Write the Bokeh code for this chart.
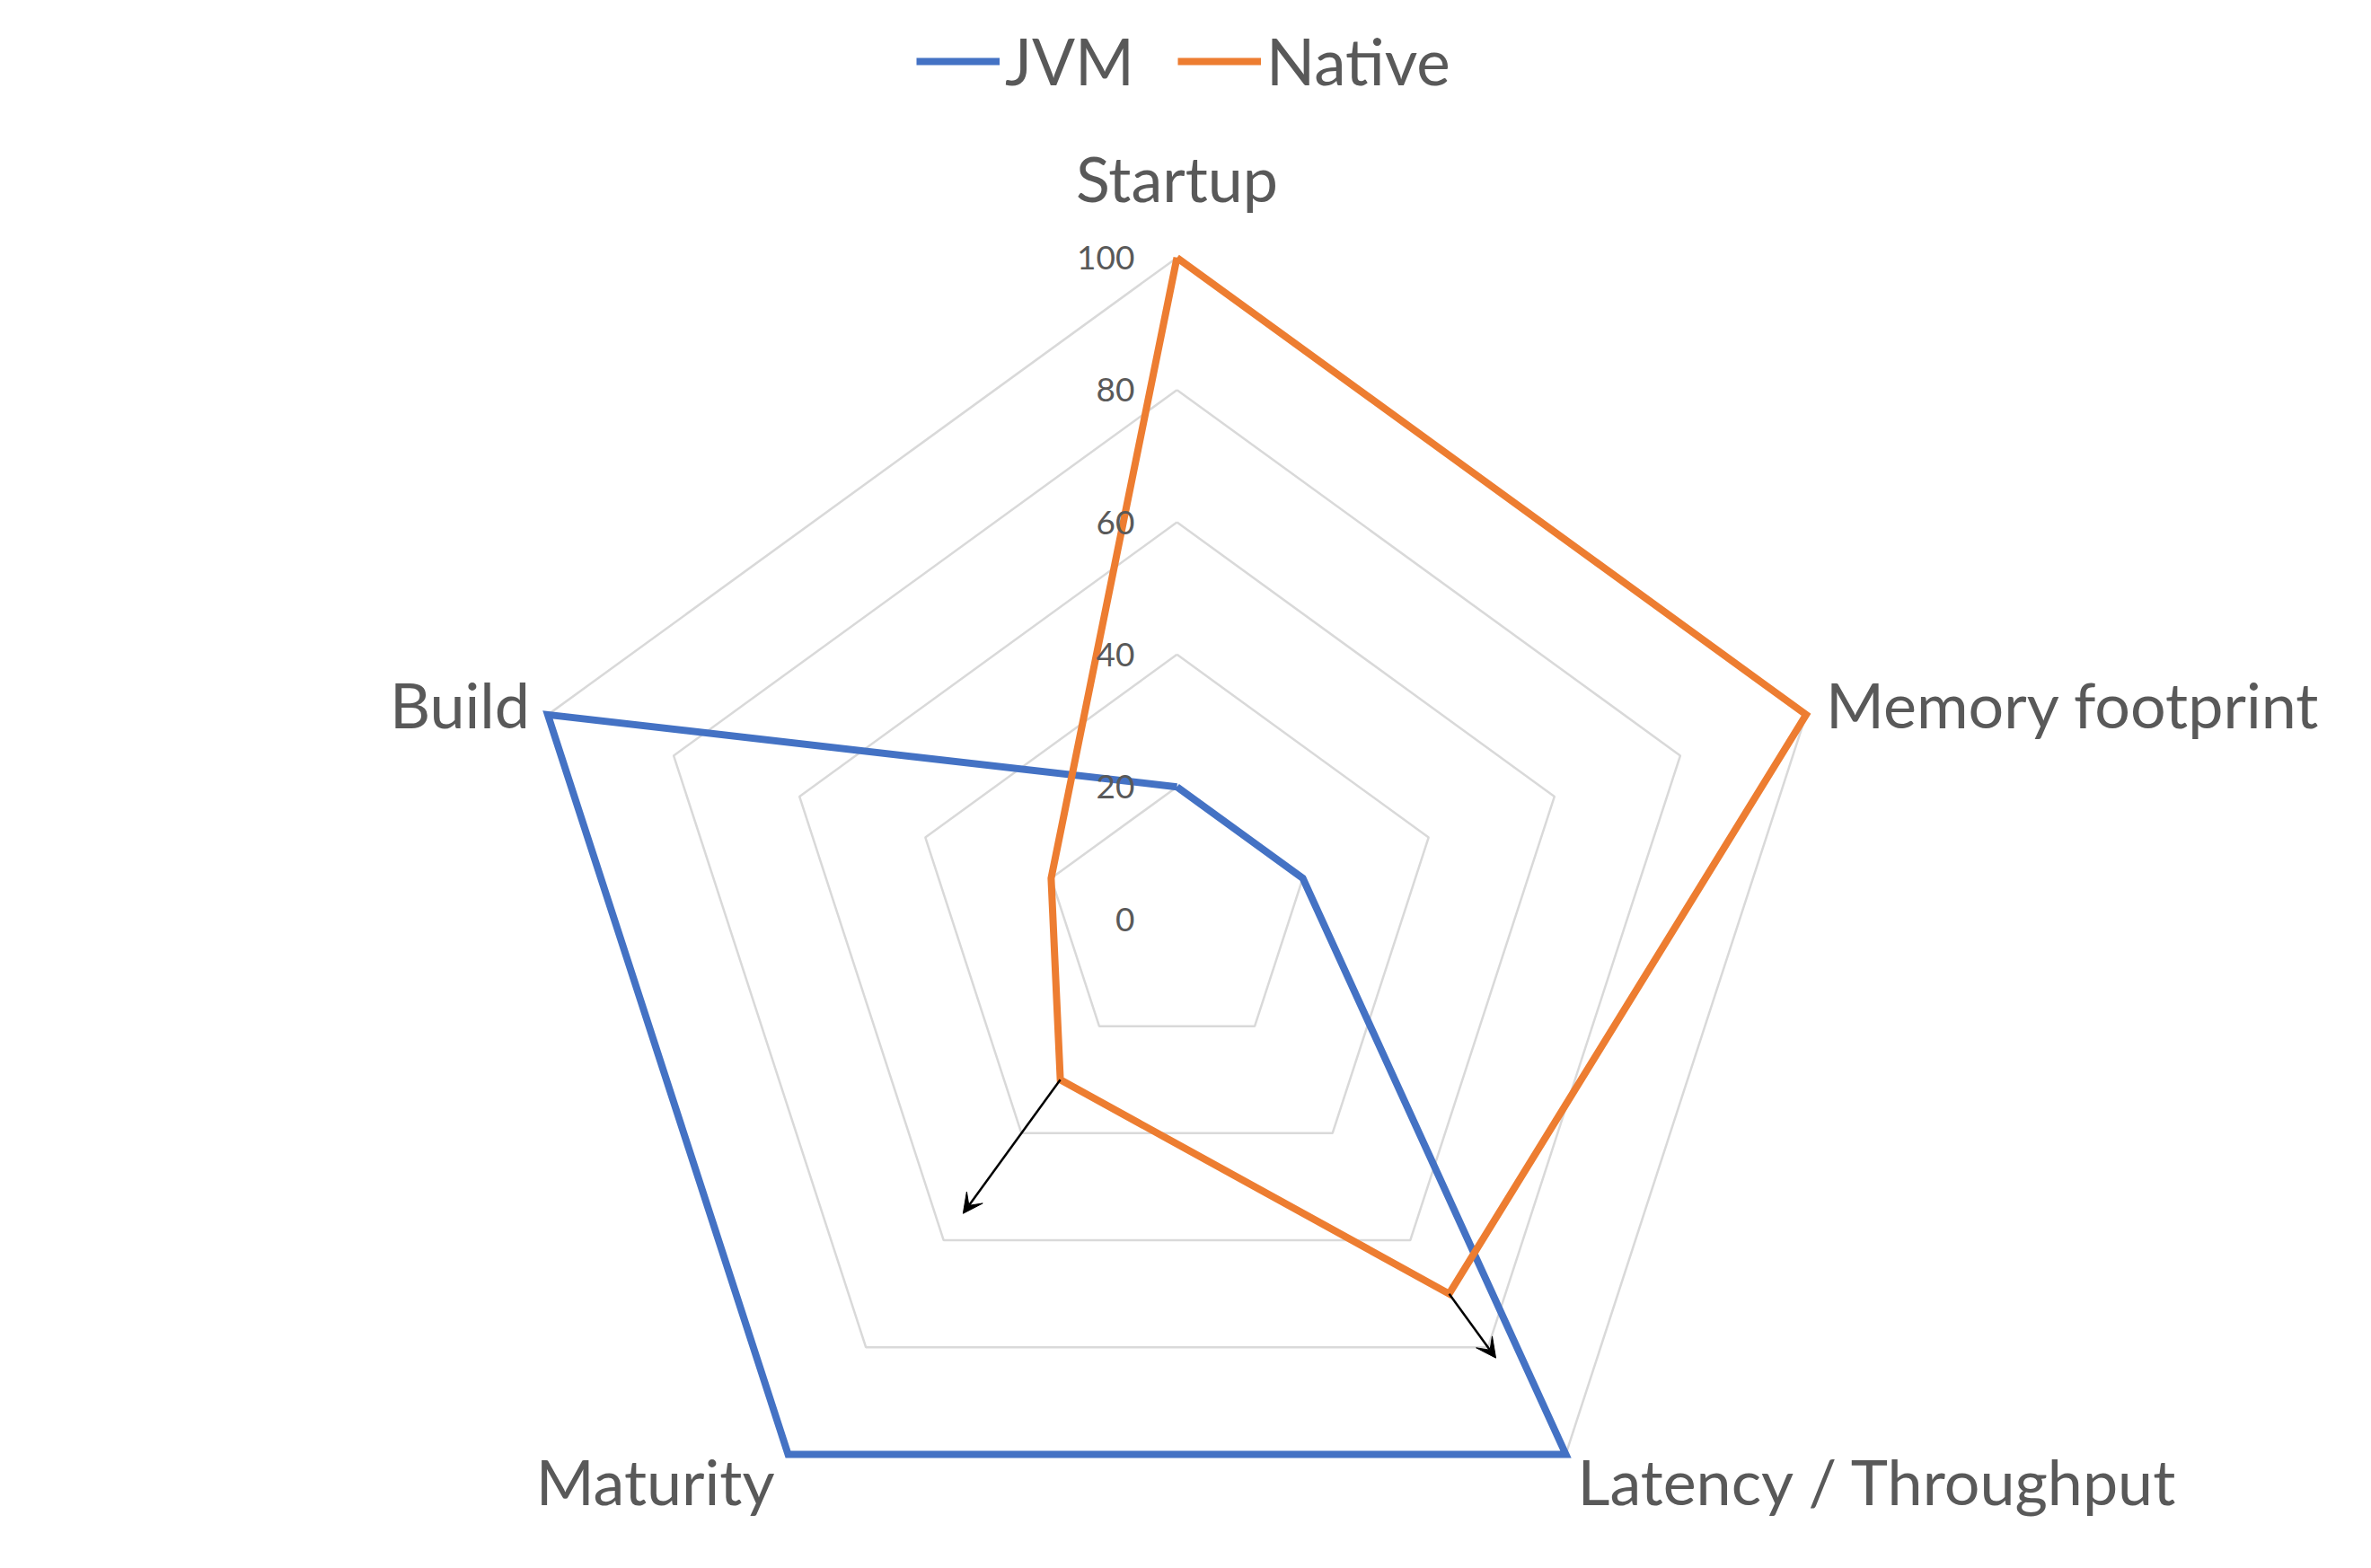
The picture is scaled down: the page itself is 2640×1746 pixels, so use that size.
import numpy as np
from bokeh.plotting import figure
from bokeh.models import ColumnDataSource, Legend, LegendItem, Arrow, VeeHead
from bokeh.core.properties import value
from bokeh.embed import file_html
from bokeh.resources import INLINE

# ---- data ----
categories = ["Startup", "Memory footprint", "Latency / Throughput", "Maturity", "Build"]
jvm = [20, 20, 100, 100, 100]
native = [100, 100, 70, 30, 20]
ring_levels = [20, 40, 60, 80, 100]
tick_labels = ["0", "20", "40", "60", "80", "100"]
tick_values = [0, 20, 40, 60, 80, 100]
arrow_axes = ["Maturity", "Latency / Throughput"]
arrow_from = [30, 70]
arrow_to = [55, 82]

# ---- geometry ----
W, H = 2640, 1746
cx_px, cy_px = 1310, 1023          # centre in screen px (from top-left)
unit = 7.366                        # px per value unit
n = len(categories)
angles = np.deg2rad(90 - 72 * np.arange(n))
ang_of = dict(zip(categories, angles))

def polar(vals, angs):
    vals = np.asarray(vals, dtype=float)
    return list(vals * np.cos(angs)), list(vals * np.sin(angs))

p = figure(width=W, height=H, output_backend="svg", toolbar_location=None,
           x_range=(-cx_px / unit, (W - cx_px) / unit),
           y_range=(-(H - cy_px) / unit, cy_px / unit),
           x_axis_location=None, y_axis_location=None,
           min_border=0, outline_line_color=None, background_fill_color="white",
           border_fill_color="white")
p.grid.visible = False

FONT = "Lato"
TXT = "#595959"

# rings
for lv in ring_levels:
    xs, ys = polar([lv] * n, angles)
    p.line(xs + [xs[0]], ys + [ys[0]], line_color="#D9D9D9", line_width=2.5)

# series
xj, yj = polar(jvm, angles)
xn, yn = polar(native, angles)
rj = p.line(xj + [xj[0]], yj + [yj[0]], line_color="#4472C4", line_width=8, line_join="miter")
rn = p.line(xn + [xn[0]], yn + [yn[0]], line_color="#ED7D31", line_width=8, line_join="miter")

# tick labels along startup axis
p.text(x=[0] * len(tick_values), y=tick_values, text=tick_labels,
       text_font=value(FONT), text_font_size="37px", text_color=TXT,
       text_align="right", text_baseline="middle", x_offset=-47)

# category labels
lx, ly = polar([100] * n, angles)
lab_src = ColumnDataSource(dict(
    x=lx, y=ly, text=categories,
    align=["center", "left", "left", "right", "right"],
    xo=[0, 22, 13, -15, -20],
    yo=[-89, -12, 30, 30, -12],
))
p.text(x="x", y="y", text="text", source=lab_src, text_font=value(FONT),
       text_font_size="70px", text_color=TXT, text_align="align",
       text_baseline="middle", x_offset="xo", y_offset="yo")

# arrows
for ax_name, a0, a1 in zip(arrow_axes, arrow_from, arrow_to):
    ang = ang_of[ax_name]
    p.add_layout(Arrow(x_start=a0 * np.cos(ang), y_start=a0 * np.sin(ang),
                       x_end=a1 * np.cos(ang), y_end=a1 * np.sin(ang),
                       line_color="black", line_width=2.5,
                       end=VeeHead(size=22, fill_color="black", line_color="black")))

legend = Legend(items=[LegendItem(label="JVM", renderers=[rj]),
                       LegendItem(label="Native", renderers=[rn])],
                orientation="horizontal", location=(1020, 1636),
                label_text_font=FONT, label_text_font_size="71px",
                label_text_color=TXT, glyph_width=93, glyph_height=80,
                label_height=80, label_standoff=6, spacing=48, padding=0,
                margin=0, border_line_color=None, background_fill_alpha=0)
p.add_layout(legend)

open("out.html", "w").write(file_html(p, INLINE))
